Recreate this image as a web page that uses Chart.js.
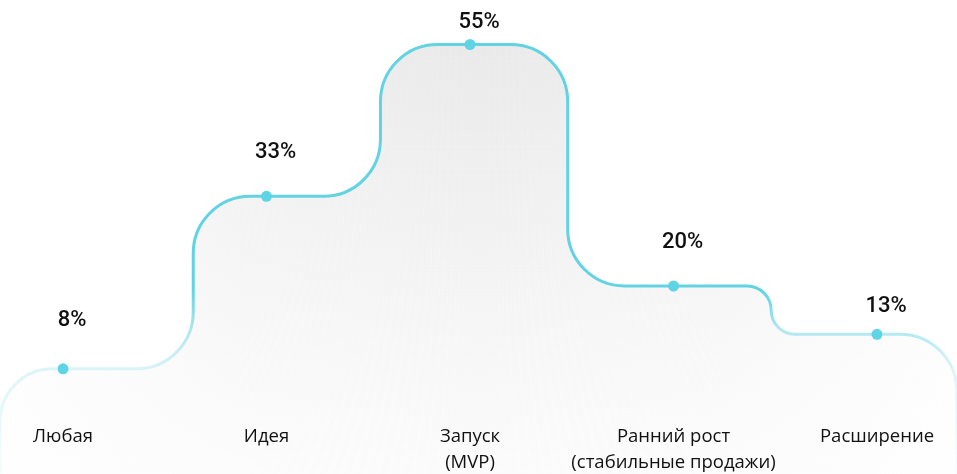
<!DOCTYPE html>
<html>
<head>
<meta charset="utf-8">
<script src="https://cdn.jsdelivr.net/npm/chart.js@4.4.0/dist/chart.umd.min.js"></script>
<style>
  html, body { margin: 0; padding: 0; background: #fff; }
  #wrap { width: 957px; height: 474px; }
</style>
</head>
<body>
<div id="wrap"><canvas id="myChart"></canvas></div>
<script>
//chart data
const stages = [['Любая'], ['Идея'], ['Запуск', '(MVP)'], ['Ранний рост', '(стабильные продажи)'], ['Расширение']];
const shares = [8, 33, 55, 20, 13];
const shareLabels = ['8%', '33%', '55%', '20%', '13%'];

//rounded "step" curve drawn from the points chart.js placed
const stepCurve = {
  id: 'stepCurve',
  buildPath(chart, ctx, closed) {
    const opts = chart.options.plugins.stepCurve;
    const pts = chart.getDatasetMeta(0).data;
    const W = chart.width, H = chart.height;
    const verts = [[0, H], [0, pts[0].y]];
    for (let i = 1; i < pts.length; i++) {
      const sx = pts[i - 1].x + opts.stepAt[i - 1] * (pts[i].x - pts[i - 1].x);
      verts.push([sx, pts[i - 1].y], [sx, pts[i].y]);
    }
    verts.push([W, pts[pts.length - 1].y], [W, H]);

    ctx.beginPath();
    ctx.moveTo(verts[0][0], verts[0][1]);
    for (let i = 1; i < verts.length - 1; i++) {
      const p = verts[i - 1], c = verts[i], n = verts[i + 1];
      const d1 = Math.hypot(c[0] - p[0], c[1] - p[1]);
      const d2 = Math.hypot(n[0] - c[0], n[1] - c[1]);
      const r = Math.min(opts.radius, d1 / 2, d2 / 2);
      ctx.arcTo(c[0], c[1], n[0], n[1], r);
    }
    ctx.lineTo(verts[verts.length - 1][0], verts[verts.length - 1][1]);
    if (closed) ctx.closePath();
  },
  beforeDraw(chart) {
    const ctx = chart.ctx;
    const W = chart.width, H = chart.height;
    ctx.save();
    //grey fill
    this.buildPath(chart, ctx, true);
    const fg = ctx.createLinearGradient(0, 40, 0, H);
    fg.addColorStop(0, 'rgba(228,228,228,0.8)');
    fg.addColorStop(0.5, 'rgba(236,236,236,0.65)');
    fg.addColorStop(1, 'rgba(245,245,245,0.4)');
    ctx.fillStyle = fg;
    ctx.fill();
    //fade the fill out at the sides
    ctx.globalCompositeOperation = 'destination-out';
    const hg = ctx.createLinearGradient(0, 0, W, 0);
    hg.addColorStop(0, 'rgba(0,0,0,0.8)');
    hg.addColorStop(0.25, 'rgba(0,0,0,0.2)');
    hg.addColorStop(0.5, 'rgba(0,0,0,0)');
    hg.addColorStop(0.75, 'rgba(0,0,0,0.2)');
    hg.addColorStop(1, 'rgba(0,0,0,0.8)');
    ctx.fillStyle = hg;
    ctx.fillRect(0, 0, W, H);
    ctx.globalCompositeOperation = 'source-over';
    //cyan line
    this.buildPath(chart, ctx, false);
    const lg = ctx.createLinearGradient(0, 0, 0, H);
    lg.addColorStop(0, 'rgba(98,211,227,1)');
    lg.addColorStop(290 / 474, 'rgba(98,211,227,1)');
    lg.addColorStop(330 / 474, 'rgba(98,211,227,0.5)');
    lg.addColorStop(370 / 474, 'rgba(98,211,227,0.22)');
    lg.addColorStop(1, 'rgba(98,211,227,0.05)');
    ctx.strokeStyle = lg;
    ctx.lineWidth = 3;
    ctx.stroke();
    ctx.restore();
  },
  afterDatasetsDraw(chart) {
    const ctx = chart.ctx;
    const opts = chart.options.plugins.stepCurve;
    const pts = chart.getDatasetMeta(0).data;
    ctx.save();
    ctx.font = '500 22px Roboto';
    ctx.fillStyle = '#111';
    ctx.textAlign = 'center';
    ctx.textBaseline = 'middle';
    pts.forEach((p, i) => ctx.fillText(shareLabels[i], p.x + 9, p.y - opts.labelLift[i]));
    ctx.restore();
  }
};

const myChart = new Chart(document.getElementById('myChart'), {
  type: 'line',
  data: {
    labels: stages,
    datasets: [{
      data: shares,
      showLine: false,
      pointRadius: 5.5,
      pointHoverRadius: 5.5,
      pointBorderWidth: 0,
      pointBackgroundColor: '#5fd4e4'
    }]
  },
  options: {
    responsive: true,
    maintainAspectRatio: false,
    animation: false,
    layout: { padding: { left: 63, right: 80, top: 10, bottom: 0 } },
    plugins: {
      legend: { display: false },
      tooltip: { enabled: false },
      stepCurve: { radius: 57, stepAt: [0.64, 0.56, 0.48, 0.48], labelLift: [48, 44, 22, 44, 28] }
    },
    scales: {
      x: {
        offset: false,
        grid: { display: false, drawTicks: false },
        border: { display: false },
        afterFit: s => { s.height = 50; },
        ticks: {
          z: 1,
          padding: 0,
          autoSkip: false,
          maxRotation: 0,
          color: '#111',
          font: { family: 'Open Sans', size: 18.5, lineHeight: '26px' }
        }
      },
      y: { display: false, min: 0, max: 60 }
    }
  },
  plugins: [stepCurve]
});
</script>
</body>
</html>
